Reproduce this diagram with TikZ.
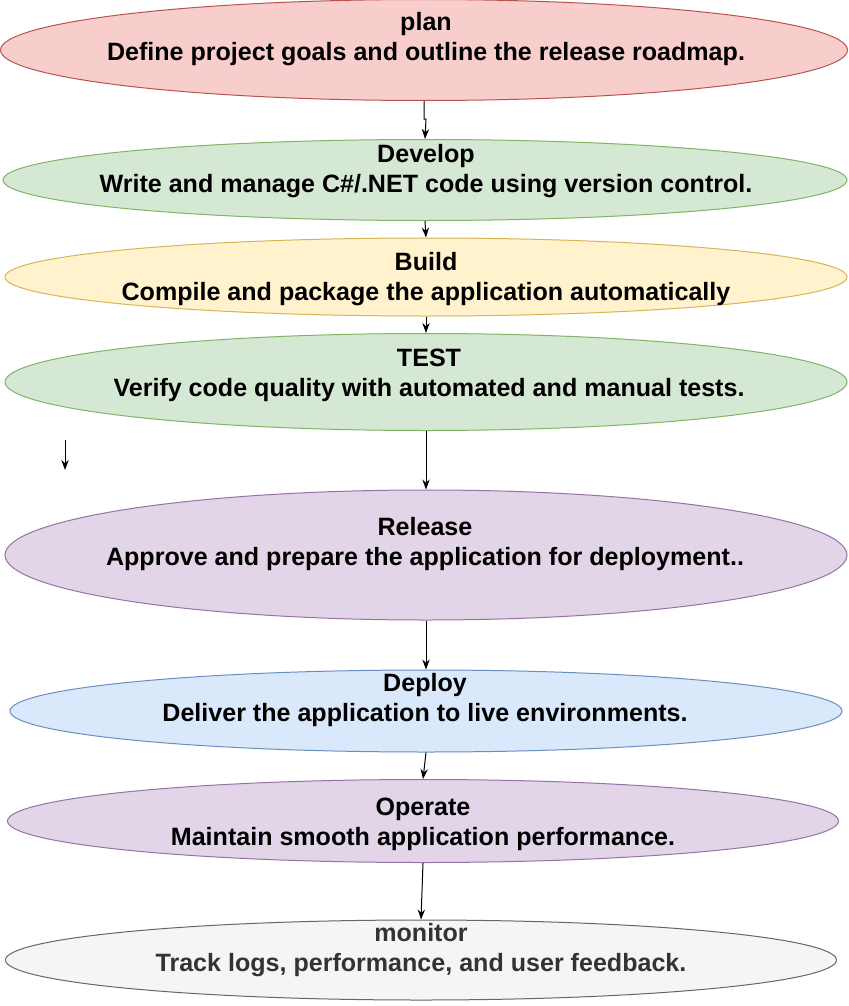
\documentclass[tikz,border=0pt]{standalone}
\usepackage{fontspec}
\setmainfont{Liberation Sans}
\usetikzlibrary{shapes.geometric,arrows.meta}
\definecolor{redF}{HTML}{F8CECC}\definecolor{redD}{HTML}{B85450}
\definecolor{grnF}{HTML}{D5E8D4}\definecolor{grnD}{HTML}{82B366}
\definecolor{ylwF}{HTML}{FFF2CC}\definecolor{ylwD}{HTML}{D6B656}
\definecolor{purF}{HTML}{E1D5E7}\definecolor{purD}{HTML}{9673A6}
\definecolor{bluF}{HTML}{DAE8FC}\definecolor{bluD}{HTML}{6C8EBF}
\definecolor{gryF}{HTML}{F5F5F5}\definecolor{gryD}{HTML}{666666}
\definecolor{gryT}{HTML}{333333}
\begin{document}
\begin{tikzpicture}[x=0.75pt,y=-0.75pt,
  stage/.style={ellipse,inner sep=0pt,line width=0.75pt},
  lbl/.style={align=center,font=\fontsize{18.8}{22.5}\selectfont\bfseries,inner sep=0pt},
  conn/.style={-{Stealth[length=7.5pt,width=5.5pt]},line width=0.75pt},
  fr/.style={stage,fill=redF,draw=redD},
  fg/.style={stage,fill=grnF,draw=grnD},
  fy/.style={stage,fill=ylwF,draw=ylwD},
  fp/.style={stage,fill=purF,draw=purD},
  fb/.style={stage,fill=bluF,draw=bluD},
  fgr/.style={stage,fill=gryF,draw=gryD}]
\fill[white] (0,0) rectangle (849,1006);
\useasboundingbox (0,0) rectangle (849,1006);
\node[fr,minimum width=635.25pt,minimum height=75.75pt] (plan) at (424,50) {};
\node[fg,minimum width=633pt,minimum height=60.75pt] (dev) at (425,180) {};
\node[fy,minimum width=631.5pt,minimum height=58.5pt] (build) at (426,277) {};
\node[fg,minimum width=631.5pt,minimum height=72.75pt] (test) at (426,382) {};
\node[fp,minimum width=631.5pt,minimum height=97.5pt] (rel) at (426,555) {};
\node[fb,minimum width=624pt,minimum height=61.5pt] (dep) at (426,711) {};
\node[fp,minimum width=623.25pt,minimum height=62.25pt] (op) at (423,821) {};
\node[fgr,minimum width=623.25pt,minimum height=60pt] (mon) at (421,960) {};

\node[lbl] (planT) at (426,39.5) {plan\\Define project goals and outline the release roadmap.};
\node[lbl] (devT) at (426,171) {Develop\\Write and manage C\#/.NET code using version control.};
\node[lbl] (buildT) at (426,279.5) {Build\\Compile and package the application automatically};
\node[lbl] (testT) at (429,375) {TEST\\Verify code quality with automated and manual tests.};
\node[lbl] (relT) at (425,544.5) {Release\\Approve and prepare the application for deployment..};
\node[lbl] (depT) at (425,700.5) {Deploy\\Deliver the application to live environments.};
\node[lbl] (opT) at (423,824.5) {Operate\\Maintain smooth application performance.};
\node[lbl,text=gryT] (monT) at (421,950) {monitor\\Track logs, performance, and user feedback.};

\draw[conn] (plan.south) -- ++(0,18) -- ++(2,0) -- (dev.north);
\draw[conn] (dev.south) -- (build.north);
\draw[conn] (build.south) -- (test.north);
\draw[conn] (test.south) -- (rel.north);
\draw[conn] (rel.south) -- (dep.north);
\draw[conn] (dep.south) -- (op.north);
\draw[conn] (op.south) -- (mon.north);
\coordinate (s1) at (65,440);
\coordinate (s2) at (65,470);
\draw[conn] (s1) -- (s2);
\end{tikzpicture}
\end{document}
